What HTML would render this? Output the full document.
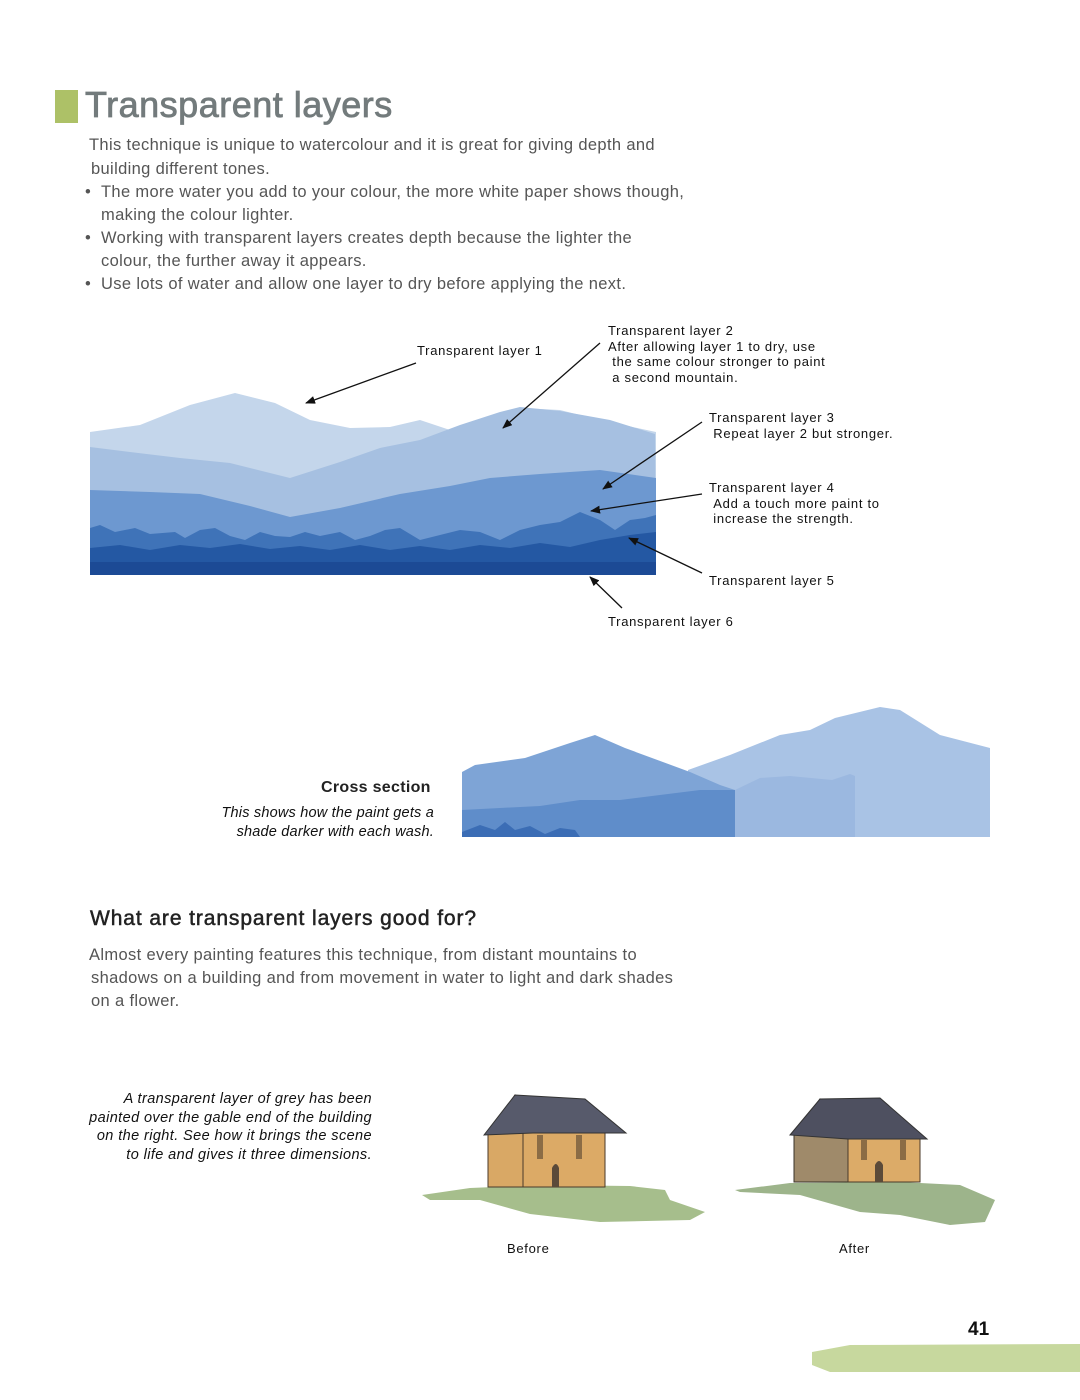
<!DOCTYPE html>
<html><head><meta charset="utf-8"><style>
body{margin:0;width:1080px;height:1400px;background:#fff;position:relative;font-family:"Liberation Sans",sans-serif;overflow:hidden}
.t{position:absolute;white-space:nowrap}
.b{font-size:16.5px;color:#555;font-weight:300;letter-spacing:0.35px}
.l{font-size:13px;color:#111;letter-spacing:0.7px;line-height:15.5px}
</style></head><body>
<div style="position:absolute;left:55px;top:90px;width:23px;height:33px;background:#adc167"></div>
<div class="t" style="left:85px;top:84px;font-size:36px;color:#737b7c;letter-spacing:0.5px;-webkit-text-stroke:0.8px #737b7c">Transparent layers</div>
<div class="t b" style="left:89px;top:136px">This technique is unique to watercolour and it is great for giving depth and</div>
<div class="t b" style="left:91px;top:160px">building different tones.</div>
<div class="t b" style="left:85px;top:183px">•&nbsp;&nbsp;The more water you add to your colour, the more white paper shows though,</div>
<div class="t b" style="left:101px;top:206px">making the colour lighter.</div>
<div class="t b" style="left:85px;top:229px">•&nbsp;&nbsp;Working with transparent layers creates depth because the lighter the</div>
<div class="t b" style="left:101px;top:252px">colour, the further away it appears.</div>
<div class="t b" style="left:85px;top:275px">•&nbsp;&nbsp;Use lots of water and allow one layer to dry before applying the next.</div>

<svg style="position:absolute;left:0;top:0" width="1080" height="1400">
<defs><marker id="a" markerWidth="10" markerHeight="8" refX="9" refY="4" orient="auto" markerUnits="userSpaceOnUse"><path d="M0,0L10,4L0,8z" fill="#111"/></marker></defs>
<path d="M90,432 L140,425 L190,405 L235,393 L275,403 L310,420 L350,428 L390,427 L420,420 L450,430 L480,425 L520,408 L560,410 L600,420 L656,432 L656,575 L90,575Z" fill="#c4d6eb"/>
<path d="M90,447 L130,452 L180,458 L230,463 L290,478 L340,462 L380,448 L420,440 L460,425 L500,412 L520,407 L560,411 L610,420 L655,434 L656,575 L90,575Z" fill="#a6c0e1"/>
<path d="M90,490 L150,492 L200,494 L250,506 L290,517 L340,508 L400,494 L450,486 L490,478 L540,474 L600,470 L656,478 L656,575 L90,575Z" fill="#6d98d0"/>
<path d="M90,528 L100,525 L115,532 L135,528 L150,534 L175,532 L185,538 L200,530 L215,528 L230,536 L245,540 L260,532 L275,536 L290,537 L305,532 L320,536 L340,532 L355,540 L370,536 L385,530 L400,528 L420,540 L440,535 L460,530 L480,532 L500,540 L520,530 L540,525 L560,522 L580,512 L600,520 L615,530 L630,520 L645,518 L656,515 L656,575 L90,575Z" fill="#3f73b8"/>
<path d="M90,548 L120,545 L150,550 L180,545 L210,548 L240,544 L270,549 L300,546 L330,550 L360,545 L390,550 L420,546 L450,550 L480,545 L510,548 L540,543 L570,547 L600,540 L630,535 L656,532 L656,575 L90,575Z" fill="#2458a3"/>
<rect x="90" y="562" width="566" height="13" fill="#1c4a95"/>
<g stroke="#111" stroke-width="1.3" fill="none" marker-end="url(#a)">
<line x1="416" y1="363" x2="306" y2="403"/>
<line x1="600" y1="343" x2="503" y2="428"/>
<line x1="702" y1="422" x2="603" y2="489"/>
<line x1="702" y1="494" x2="591" y2="511"/>
<line x1="702" y1="573" x2="629" y2="538"/>
<line x1="622" y1="608" x2="590" y2="577"/>
</g>
<path d="M688,770 L730,755 L780,735 L810,730 L835,718 L880,707 L900,710 L940,735 L990,748 L990,837 L688,837Z" fill="#a9c3e5"/>
<path d="M735,790 L760,778 L790,776 L832,780 L850,774 L855,776 L855,837 L735,837Z" fill="#9bb8e0"/>
<path d="M462,772 L475,765 L525,758 L570,743 L595,735 L625,748 L690,772 L720,785 L735,790 L735,837 L462,837Z" fill="#7ea4d6"/>
<path d="M462,810 L500,808 L540,806 L580,800 L620,800 L660,795 L700,790 L735,790 L735,837 L462,837Z" fill="#5f8dca"/>
<path d="M462,832 L480,825 L495,830 L505,822 L515,830 L530,826 L545,834 L560,828 L575,830 L580,837 L462,837Z" fill="#3b6db5"/>
<path d="M422,1195 L470,1188 L540,1185 L630,1186 L665,1190 L670,1200 L705,1212 L690,1220 L600,1222 L530,1214 L480,1200 L430,1200Z" fill="#a6be8c"/>
<path d="M488,1135 L515,1095 L545,1132 L545,1187 L488,1187Z" fill="#d9a865" stroke="#4a3a2a" stroke-width="1"/>
<rect x="523" y="1132" width="82" height="55" fill="#dcaa66" stroke="#4a3a2a" stroke-width="1"/>
<path d="M484,1135 L515,1095 L585,1099 L626,1133 L533,1133Z" fill="#575a6b" stroke="#333" stroke-width="1"/>
<rect x="537" y="1135" width="6" height="24" fill="#8b6c45"/><rect x="576" y="1135" width="6" height="24" fill="#8b6c45"/>
<path d="M552,1187 L552,1168 Q556,1160 559,1168 L559,1187Z" fill="#5b4a39"/>
<path d="M735,1190 L790,1183 L900,1182 L960,1185 L995,1200 L985,1222 L950,1225 L900,1215 L860,1212 L800,1195 L740,1192Z" fill="#9db48b"/>
<path d="M794,1135 L820,1099 L850,1135 L850,1182 L794,1182Z" fill="#9f8a6a" stroke="#3a3328" stroke-width="1"/>
<rect x="848" y="1137" width="72" height="45" fill="#dcab68" stroke="#4a3a2a" stroke-width="1"/>
<path d="M790,1135 L820,1099 L880,1098 L927,1139 L848,1139Z" fill="#4e5060" stroke="#333" stroke-width="1"/>
<rect x="861" y="1140" width="6" height="20" fill="#8b6c45"/><rect x="900" y="1140" width="6" height="20" fill="#8b6c45"/>
<path d="M875,1182 L875,1165 Q879,1157 883,1165 L883,1182Z" fill="#5b4a39"/>
<path d="M812,1352 L850,1345 L1080,1344 L1080,1372 L830,1372 L812,1365Z" fill="#c7d89e"/>
</svg>

<div class="t l" style="left:608px;top:323px">Transparent layer 2<br>After allowing layer 1 to dry, use<br>&nbsp;the same colour stronger to paint<br>&nbsp;a second mountain.</div>
<div class="t l" style="left:417px;top:343px">Transparent layer 1</div>
<div class="t l" style="left:709px;top:410px">Transparent layer 3<br>&nbsp;Repeat layer 2 but stronger.</div>
<div class="t l" style="left:709px;top:480px">Transparent layer 4<br>&nbsp;Add a touch more paint to<br>&nbsp;increase the strength.</div>
<div class="t l" style="left:709px;top:573px">Transparent layer 5</div>
<div class="t l" style="left:608px;top:614px">Transparent layer 6</div>

<div class="t" style="left:321px;top:779px;font-size:16px;font-weight:bold;color:#222;letter-spacing:0.3px">Cross section</div>
<div class="t" style="right:646px;top:804px;font-size:14.5px;font-style:italic;color:#111;text-align:right;line-height:19px;letter-spacing:0.2px">This shows how the paint gets a<br>shade darker with each wash.</div>

<div class="t" style="left:90px;top:907px;font-size:21px;color:#222;letter-spacing:0.9px;-webkit-text-stroke:0.5px #222">What are transparent layers good for?</div>
<div class="t b" style="left:89px;top:946px">Almost every painting features this technique, from distant mountains to</div>
<div class="t b" style="left:91px;top:969px">shadows on a building and from movement in water to light and dark shades</div>
<div class="t b" style="left:91px;top:992px">on a flower.</div>

<div class="t" style="right:708px;top:1090px;font-size:14.5px;font-style:italic;color:#111;text-align:right;line-height:18.5px;letter-spacing:0.4px">A transparent layer of grey has been<br>painted over the gable end of the building<br>on the right. See how it brings the scene<br>to life and gives it three dimensions.</div>
<div class="t l" style="left:507px;top:1241px">Before</div>
<div class="t l" style="left:839px;top:1241px">After</div>
<div class="t" style="left:968px;top:1319px;font-size:19px;font-weight:bold;color:#111">41</div>
</body></html>
